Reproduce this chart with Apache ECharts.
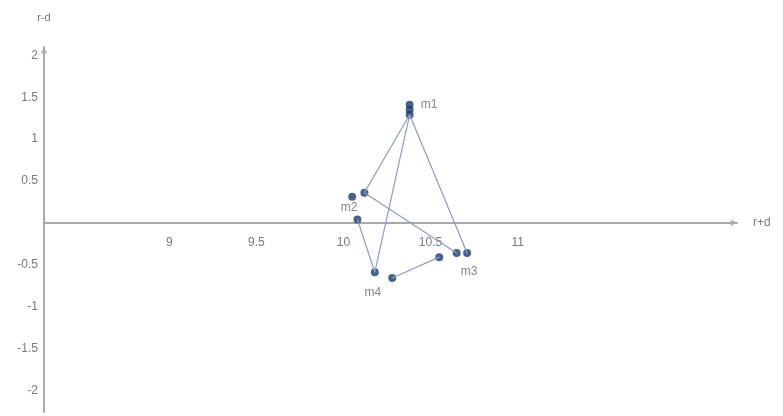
<!DOCTYPE html>
<html>
<head>
<meta charset="utf-8">
<script src="https://cdn.jsdelivr.net/npm/echarts@6/dist/echarts.min.js"></script>
<style>
  html, body { margin: 0; padding: 0; background: #fff; }
  #chart { width: 783px; height: 416px; }
</style>
</head>
<body>
<div id="chart"></div>
<script>
// points of each factor group, [r+d, r-d]
const m1Points = [[10.38, 1.41], [10.38, 1.35], [10.38, 1.29]];
const m2Points = [[10.05, 0.31], [10.12, 0.36], [10.08, 0.04]];
const m3Points = [[10.55, -0.41], [10.65, -0.36], [10.71, -0.36]];
const m4Points = [[10.18, -0.59], [10.28, -0.66]];
const groupNames = ["m1", "m2", "m3", "m4"];
// connections: [group, point index, group, point index]
const links = [
  ["m1", 2, "m2", 1],
  ["m1", 2, "m4", 0],
  ["m1", 2, "m3", 2],
  ["m2", 1, "m3", 1],
  ["m2", 2, "m4", 0],
  ["m4", 1, "m3", 0],
];
const xTickLabels = [9, 9.5, 10, 10.5, 11];
const yTickLabels = [-2, -1.5, -1, -0.5, 0.5, 1, 1.5, 2];

const groups = { m1: m1Points, m2: m2Points, m3: m3Points, m4: m4Points };

// where the group name sits, and which point carries it
const labelSpot = {
  m1: { idx: 0, position: "right", offset: [2, 0] },
  m2: { idx: 0, position: "bottom", offset: [-3, -4] },
  m3: { idx: 2, position: "bottom", offset: [2, 4] },
  m4: { idx: 0, position: "bottom", offset: [-2, 5] },
};

const font = "Liberation Sans, Arial, sans-serif";
const axisColor = "#a9a9a9";
const textColor = "#7a7a7a";

// y range and grid, the x axis is shifted up to r-d = 0
const yMin = -2.26;
const yMax = 2.1;
const gridTop = 47;
const gridHeight = 365;
const zeroShift = (gridHeight * (0 - yMin)) / (yMax - yMin);

const series = [];
links.forEach((l) => {
  series.push({
    type: "line",
    data: [groups[l[0]][l[1]], groups[l[2]][l[3]]],
    showSymbol: false,
    silent: true,
    lineStyle: { color: "#8d9dc4", width: 1.2 },
  });
});
groupNames.forEach((g) => {
  const spot = labelSpot[g];
  series.push({
    type: "scatter",
    name: g,
    symbol: "circle",
    symbolSize: 8,
    itemStyle: { color: "#1e3c6c" },
    data: groups[g].map((p, i) => ({
      value: p,
      label: {
        show: i === spot.idx,
        formatter: g,
        position: spot.position,
        offset: spot.offset,
        color: "#666",
        fontSize: 12,
        fontFamily: font,
      },
    })),
  });
});

const chart = echarts.init(document.getElementById("chart"));
chart.setOption({
  animation: false,
  grid: {
    left: 44,
    top: gridTop,
    width: 693,
    height: gridHeight,
    containLabel: false,
    outerBoundsMode: "none",
  },
  xAxis: {
    type: "value",
    min: 8.28,
    max: 12.26,
    position: "bottom",
    offset: -zeroShift,
    name: "r+d",
    nameLocation: "end",
    nameGap: 16,
    nameTextStyle: { color: textColor, fontSize: 12, fontFamily: font },
    axisLine: {
      onZero: false,
      symbol: ["none", "arrow"],
      symbolSize: [5, 7],
      lineStyle: { color: axisColor, width: 2 },
    },
    axisTick: { show: false },
    splitLine: { show: false },
    axisLabel: {
      customValues: xTickLabels,
      margin: 14,
      color: textColor,
      fontSize: 12,
      fontFamily: font,
    },
  },
  yAxis: {
    type: "value",
    min: yMin,
    max: yMax,
    name: "r-d",
    nameLocation: "end",
    nameGap: 24,
    nameTextStyle: { color: textColor, fontSize: 11, align: "center", fontFamily: font },
    axisLine: {
      show: true,
      onZero: false,
      symbol: ["none", "arrow"],
      symbolSize: [5, 7],
      lineStyle: { color: axisColor, width: 2 },
    },
    axisTick: { show: false },
    splitLine: { show: false },
    axisLabel: {
      customValues: yTickLabels,
      margin: 6,
      color: textColor,
      fontSize: 12,
      fontFamily: font,
    },
  },
  series: series,
});
</script>
</body>
</html>
